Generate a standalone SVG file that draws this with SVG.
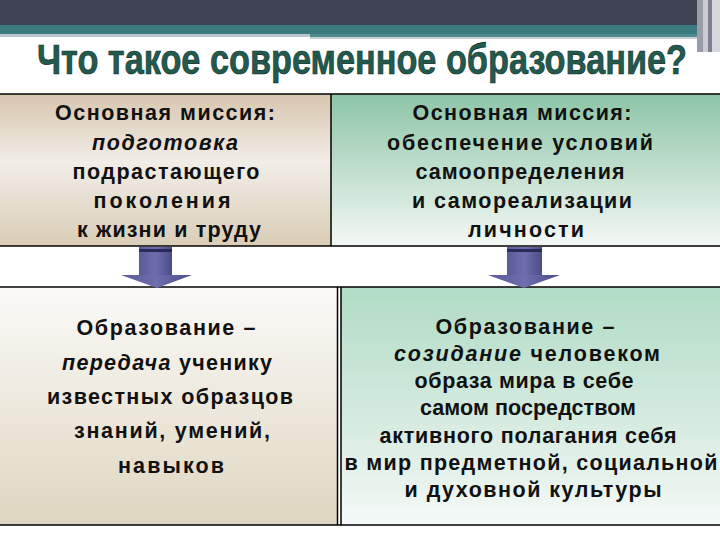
<svg xmlns="http://www.w3.org/2000/svg" width="720" height="540" viewBox="0 0 720 540">
<defs>
<linearGradient id="gTL" x1="0" y1="0" x2="0" y2="1">
<stop offset="0" stop-color="#d7c6ae"/>
<stop offset="0.45" stop-color="#f1ede7"/>
<stop offset="1" stop-color="#dacdb6"/>
</linearGradient>
<linearGradient id="gTR" x1="0" y1="0" x2="0" y2="1">
<stop offset="0" stop-color="#8cc5a7"/>
<stop offset="1" stop-color="#f4f8f5"/>
</linearGradient>
<linearGradient id="gBL" x1="0" y1="0" x2="0" y2="1">
<stop offset="0" stop-color="#fbfaf8"/>
<stop offset="1" stop-color="#ded6c0"/>
</linearGradient>
<linearGradient id="gBR" x1="0" y1="0" x2="0" y2="1">
<stop offset="0" stop-color="#b0dbc5"/>
<stop offset="0.8" stop-color="#e6f2ec"/>
<stop offset="1" stop-color="#f6faf8"/>
</linearGradient>
<linearGradient id="gArr" x1="0" y1="0" x2="1" y2="0">
<stop offset="0" stop-color="#5a5a98"/>
<stop offset="0.5" stop-color="#6e6eae"/>
<stop offset="1" stop-color="#4c4c8a"/>
</linearGradient>
<style>
.t{font-family:"Liberation Sans",Arial,sans-serif;font-size:21.5px;font-weight:bold;fill:#111;text-anchor:middle}
.i{font-style:italic}
.b{stroke:#000;stroke-width:1.5;fill:none}
.arr{fill:url(#gArr)}
</style>
</defs>
<g id="header">
<rect x="0" y="0" width="720" height="25" fill="#3f4253"/>
<rect x="0" y="25" width="720" height="9" fill="#3b7b80"/>
<rect x="0" y="34" width="310" height="3" fill="#b9c8cf"/>
<rect x="310" y="34" width="390" height="3" fill="#4f8a8e"/>
<rect x="310" y="37" width="390" height="2" fill="#c4d0d3"/>
<rect x="697" y="0" width="6" height="52" fill="#9a9ca8"/>
<rect x="703" y="0" width="5" height="52" fill="#c9cad2"/>
<rect x="708" y="0" width="4" height="52" fill="#7d8090"/>
<rect x="712" y="0" width="8" height="52" fill="#d6d7dc"/>
<text x="362" y="74" font-family="'Liberation Sans',Arial,sans-serif" font-size="42" font-weight="bold" fill="#235a4e" stroke="#0c2b25" stroke-width="0.6" text-anchor="middle" textLength="650" lengthAdjust="spacingAndGlyphs">Что такое современное образование?</text>
</g>
<g id="box-top-left">
<rect x="0" y="94" width="331" height="152" fill="url(#gTL)"/>
<text class="t" x="165" y="120" textLength="220" lengthAdjust="spacing">Основная миссия:</text>
<text class="t i" x="165" y="150" textLength="146" lengthAdjust="spacing">подготовка</text>
<text class="t" x="166" y="179" textLength="187" lengthAdjust="spacing">подрастающего</text>
<text class="t" x="162" y="208" textLength="137" lengthAdjust="spacing">поколения</text>
<text class="t" x="169" y="237" textLength="184" lengthAdjust="spacing">к жизни и труду</text>
</g>
<g id="box-top-right">
<rect x="331" y="94" width="389" height="152" fill="url(#gTR)"/>
<text class="t" x="522" y="120" textLength="219" lengthAdjust="spacing">Основная миссия:</text>
<text class="t" x="520" y="150" textLength="266" lengthAdjust="spacing">обеспечение условий</text>
<text class="t" x="520" y="179" textLength="209" lengthAdjust="spacing">самоопределения</text>
<text class="t" x="522" y="208" textLength="220" lengthAdjust="spacing">и самореализации</text>
<text class="t" x="526" y="237" textLength="116" lengthAdjust="spacing">личности</text>
</g>
<g id="box-bottom-left">
<rect x="0" y="287" width="338" height="238" fill="url(#gBL)"/>
<text class="t" x="166" y="335" textLength="179" lengthAdjust="spacing">Образование –</text>
<text class="t" x="167" y="370" textLength="210" lengthAdjust="spacing"><tspan class="i">передача</tspan> ученику</text>
<text class="t" x="170" y="404" textLength="246" lengthAdjust="spacing">известных образцов</text>
<text class="t" x="172" y="438" textLength="196" lengthAdjust="spacing">знаний, умений,</text>
<text class="t" x="171" y="473" textLength="106" lengthAdjust="spacing">навыков</text>
</g>
<g id="box-bottom-right">
<rect x="341" y="287" width="379" height="238" fill="url(#gBR)"/>
<text class="t" x="525" y="334" textLength="179" lengthAdjust="spacing">Образование –</text>
<text class="t" x="527" y="361" textLength="266" lengthAdjust="spacing"><tspan class="i">созидание</tspan>  человеком</text>
<text class="t" x="524" y="388" textLength="219" lengthAdjust="spacing">образа мира в себе</text>
<text class="t" x="528" y="415" textLength="216" lengthAdjust="spacing">самом посредством</text>
<text class="t" x="528" y="443" textLength="297" lengthAdjust="spacing">активного полагания себя</text>
<text class="t" x="531" y="470" textLength="373" lengthAdjust="spacing">в мир предметной, социальной</text>
<text class="t" x="533" y="497" textLength="257" lengthAdjust="spacing">и духовной культуры</text>
</g>
<g id="borders">
<line class="b" x1="0" y1="94" x2="720" y2="94"/>
<line class="b" x1="0" y1="246" x2="720" y2="246"/>
<line class="b" x1="331" y1="94" x2="331" y2="246"/>
<line class="b" x1="0" y1="287" x2="720" y2="287"/>
<line class="b" x1="0" y1="525" x2="720" y2="525"/>
<line class="b" x1="337.5" y1="287" x2="337.5" y2="525"/>
<line class="b" x1="341" y1="287" x2="341" y2="525"/>
</g>
<g id="connectors">
<g id="arrow-left">
<rect class="arr" x="139" y="247" width="33" height="29"/>
<rect x="139" y="249" width="33" height="3" fill="#2a2a58"/>
<polygon class="arr" points="121,275 192,275 157,288"/>
</g>
<g id="arrow-right">
<rect class="arr" x="507" y="247" width="35" height="29"/>
<rect x="507" y="249" width="35" height="3" fill="#2a2a58"/>
<polygon class="arr" points="488,275 560,275 524,288"/>
</g>
</g>
</svg>
